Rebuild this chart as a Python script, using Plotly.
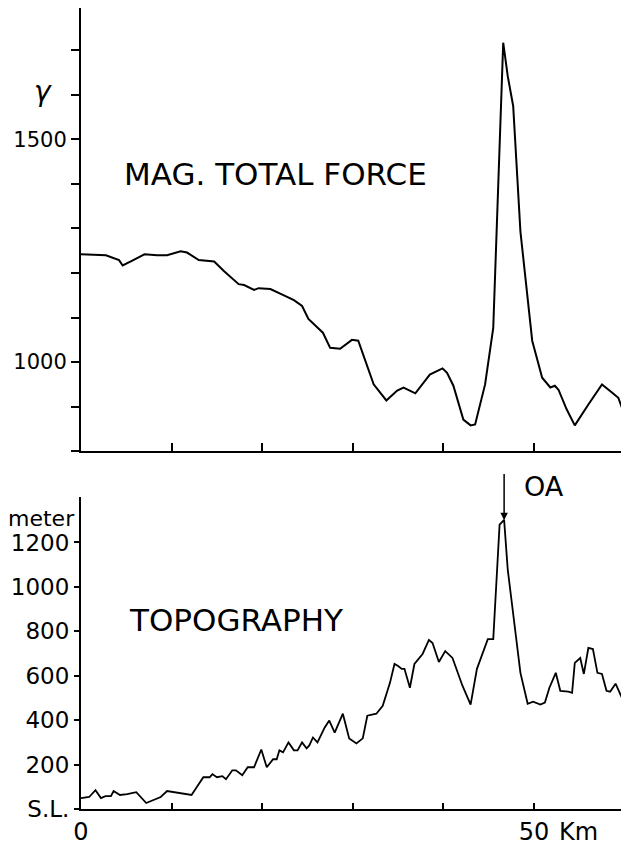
import plotly.graph_objects as go

# ---- data ----
mag_km = [0, 2.75, 4.2, 4.6, 5.5, 7.0, 8.4, 9.5, 11.0, 11.7, 13.0, 14.7, 15.8, 17.4, 18.0,
          19.1, 19.6, 20.9, 22.4, 23.5, 24.4, 25.1, 26.7, 27.5, 28.6, 29.9, 30.6, 32.3, 33.7,
          34.9, 35.6, 36.9, 38.5, 39.9, 40.4, 41.1, 42.2, 43.0, 43.5, 44.6, 45.5, 46.0, 46.6,
          47.1, 47.7, 48.5, 49.8, 50.9, 51.8, 52.3, 52.7, 53.6, 54.5, 56.0, 57.5, 58.6, 59.3, 59.7]
mag_gamma = [1242, 1240, 1229, 1217, 1226, 1242, 1240, 1240, 1249, 1246, 1229, 1226, 1204, 1175,
             1173, 1162, 1166, 1164, 1150, 1139, 1126, 1097, 1066, 1032, 1030, 1050, 1048, 950,
             914, 936, 943, 930, 972, 986, 976, 947, 871, 858, 860, 950, 1077, 1383, 1717, 1642,
             1575, 1293, 1048, 965, 943, 947, 938, 894, 858, 905, 950, 932, 920, 898]

topo_km = [0, 0.9, 1.6, 2.2, 2.7, 3.3, 3.6, 4.3, 5.1, 6.1, 7.2, 8.8, 9.5, 10.3, 11.2, 12.2, 13.5,
           14.2, 14.5, 15.0, 15.6, 16.0, 16.7, 17.1, 17.8, 18.4, 19.1, 19.9, 20.5, 21.2, 21.6,
           21.9, 22.3, 22.9, 23.5, 23.9, 24.4, 24.9, 25.2, 25.6, 26.1, 26.9, 27.4, 28.0, 28.9,
           29.6, 30.4, 31.1, 31.6, 32.6, 33.3, 34.1, 34.6, 35.0, 35.4, 35.7, 36.3, 36.8, 37.7,
           38.4, 38.8, 39.5, 40.2, 41.0, 42.1, 43.0, 43.7, 44.9, 45.5, 46.2, 46.7, 47.1, 48.5,
           49.3, 49.9, 50.7, 51.2, 51.7, 52.4, 52.9, 53.8, 54.2, 54.5, 55.1, 55.5, 56.0, 56.5,
           57.0, 57.5, 58.0, 58.4, 59.0, 59.7]
topo_m = [49, 54, 85, 49, 58, 58, 81, 63, 67, 76, 27, 54, 81, 76, 67, 63, 143, 143, 157, 143,
          148, 134, 174, 174, 152, 188, 188, 268, 188, 224, 224, 264, 255, 300, 264, 264, 300,
          273, 286, 322, 300, 367, 398, 344, 429, 318, 295, 318, 420, 429, 465, 568, 653, 644,
          631, 631, 546, 653, 698, 761, 747, 662, 711, 680, 555, 470, 631, 765, 765, 1280, 1302,
          1078, 613, 474, 483, 470, 479, 546, 613, 532, 528, 523, 658, 680, 608, 725, 720, 613,
          608, 532, 528, 564, 501]

mag_tickvals = [800, 900, 1000, 1100, 1200, 1300, 1400, 1500, 1600, 1700]
mag_ticktext = ["", "", "1000", "", "", "", "", "1500", "", ""]
topo_tickvals = [0, 200, 400, 600, 800, 1000, 1200]
topo_ticktext = ["S.L.", "200", "400", "600", "800", "1000", "1200"]
km_tickvals = [0, 10, 20, 30, 40, 50]
km_ticktext = ["0", "", "", "", "", "50"]
oa_km = 46.7

assert len(mag_km) == len(mag_gamma) and len(topo_km) == len(topo_m)

FONT = "DejaVu Sans"
X_RANGE = [0, 59.6]

fig = go.Figure()
fig.add_trace(go.Scatter(x=mag_km, y=mag_gamma, mode="lines",
                         line=dict(color="black", width=2), xaxis="x", yaxis="y",
                         showlegend=False, hoverinfo="skip"))
fig.add_trace(go.Scatter(x=topo_km, y=topo_m, mode="lines",
                         line=dict(color="black", width=1.8), xaxis="x2", yaxis="y2",
                         showlegend=False, hoverinfo="skip"))

axis_common = dict(showgrid=False, zeroline=False, showline=True, linecolor="black",
                   linewidth=2, tickcolor="black", tickwidth=1.5)

fig.update_layout(
    width=621, height=846,
    margin=dict(l=81, r=0, t=8, b=32),
    paper_bgcolor="white", plot_bgcolor="white",
    font=dict(family=FONT, color="black"),
    xaxis=dict(domain=[0, 1], range=X_RANGE, anchor="y", tickvals=km_tickvals,
               ticktext=["" for _ in km_tickvals], ticks="inside", ticklen=8,
               showticklabels=False, **axis_common),
    yaxis=dict(domain=[0.4467, 1], range=[800, 1795], anchor="x", tickvals=mag_tickvals,
               ticktext=mag_ticktext, ticks="outside", ticklen=8,
               tickfont=dict(size=21, family=FONT), **axis_common),
    xaxis2=dict(domain=[0, 1], range=X_RANGE, anchor="y2", tickvals=km_tickvals,
                ticktext=km_ticktext, ticks="inside", ticklen=6,
                tickfont=dict(size=24, family=FONT), **axis_common),
    yaxis2=dict(domain=[0, 0.3896], range=[0, 1405], anchor="x2", tickvals=topo_tickvals,
                ticktext=topo_ticktext, ticks="outside", ticklen=5,
                tickfont=dict(size=23, family=FONT), **axis_common),
)

ann = []
ann.append(dict(x=4.5, y=1423, xref="x", yref="y", text="MAG. TOTAL FORCE", showarrow=False,
                xanchor="left", yanchor="middle", font=dict(size=31, family=FONT)))
ann.append(dict(x=5.1, y=850, xref="x2", yref="y2", text="TOPOGRAPHY", showarrow=False,
                xanchor="left", yanchor="middle", font=dict(size=31, family=FONT)))
# labels outside the plotting areas (paper coordinates)
ann.append(dict(x=-0.0704, y=0.8958, xref="paper", yref="paper", text="<i>γ</i>",
                showarrow=False, xanchor="center", yanchor="middle",
                font=dict(size=28, family=FONT)))
ann.append(dict(x=-0.0074, y=0.3623, xref="paper", yref="paper", text="meter",
                showarrow=False, xanchor="right", yanchor="middle",
                font=dict(size=22, family=FONT)))
ann.append(dict(x=0.922, y=-0.0285, xref="paper", yref="paper", text="Km",
                showarrow=False, xanchor="center", yanchor="middle",
                font=dict(size=24, family=FONT)))
ann.append(dict(x=0.8167, y=0.402, xref="paper", yref="paper", text="OA",
                showarrow=False, xanchor="left", yanchor="middle",
                font=dict(size=27, family=FONT)))
ann.append(dict(x=oa_km, y=1300, xref="x2", yref="y2", ax=oa_km, ay=1515, axref="x2",
                ayref="y2", text="", showarrow=True, arrowhead=2, arrowsize=1,
                arrowwidth=1.5, arrowcolor="black", standoff=0))
fig.update_layout(annotations=ann)

fig.write_html("out.html")
